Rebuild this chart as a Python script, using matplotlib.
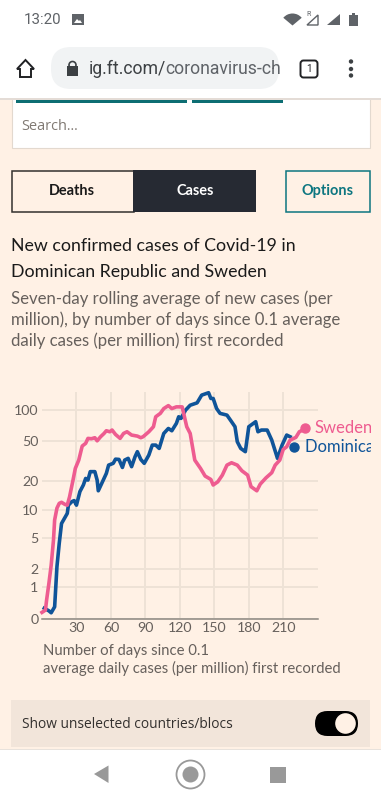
import numpy as np
import matplotlib
matplotlib.use("Agg")
import matplotlib.pyplot as plt
from matplotlib.patches import Rectangle, FancyBboxPatch, Circle, Polygon, Wedge

plt.rcParams['font.family'] = ['Lato', 'DejaVu Sans']

# datos
dias_se = [0,3,4,6,8,10,11,13,15,17,20,22,24,27,29,32,35,38,40,43,46,48,51,54,56,59,61,64,68,71,74,78,83,86,88,93,97,99,103,106,110,113,117,122,124,126,129,131,133,138,142,147,149,153,157,161,165,170,174,179,182,187,190,195,200,203,207,210,213,216,221,224,227]
casos_se = [0.15,0.21,0.51,1.18,2.27,4.69,7.85,10.5,11.8,12.1,11.5,11.3,13.8,20.4,26.7,32.3,44.4,47.2,52.8,52.4,53.6,50,54.8,59,62.7,61.3,63.7,57.7,52.8,59,61.3,56.9,55.6,53.6,54.8,61.3,68.6,85.8,92.5,103,110,103,107,107,85.8,68.6,59,43.7,32.3,26.7,22.4,20.7,18.2,19.6,22.9,28.8,30.4,28.8,25.3,22.9,17.5,15.9,18.6,21.5,24.2,28.8,32.3,41.2,43.7,50.8,54,61.3,63.7]
dias_do = [2,6,8,11,13,15,17,22,23,26,28,30,33,36,38,40,42,46,48,49,52,56,58,62,64,67,70,72,75,78,81,83,86,89,93,96,99,102,106,110,113,117,119,121,125,129,135,139,145,147,149,152,155,161,165,168,170,173,177,180,186,188,191,196,200,205,209,213,216]
casos_do = [0.26,0.19,0.14,0.30,2.15,4.28,7.2,9.25,11.3,12.3,12.6,11.3,15.6,18.2,21.2,20.4,24.8,24.8,20.4,15.9,18.9,23.8,28.8,30,33,32.8,27.3,32.3,33.6,27.8,34.9,39.1,32.8,30,36.2,45.4,45.4,42.1,59,66,62.7,74,85.8,82.7,99.6,111,117,139,146.6,129,129,103,92.5,89,76.8,68.6,49,42.1,39.1,68.6,76.8,61.3,63.7,63.7,50.8,33.6,45.4,56.9,54.8]
punto_se = (229, 66)
punto_do = (219, 43.7)
ticks_y = [0, 1, 2, 5, 10, 20, 50, 100]
ticks_x = [30, 60, 90, 120, 150, 180, 210]

FONDO = '#fff1e5'
ROSA = '#ee5c90'
AZUL = '#0f5499'
GRIS = '#66605c'
TINTA = '#1a1a1a'

fig = plt.figure(figsize=(3.81, 8.0), dpi=100, facecolor=FONDO)

# capa de pagina en pixeles
pg = fig.add_axes([0, 0, 1, 1])
pg.set_xlim(0, 381)
pg.set_ylim(800, 0)
pg.axis('off')

def caja(x, y, w, h, fc, ec='none', lw=0, z=2):
    pg.add_patch(Rectangle((x, y), w, h, fc=fc, ec=ec, lw=lw, zorder=z))

def texto(x, y, s, px, color=TINTA, z=5, **kw):
    kw.setdefault('va', 'center')
    return pg.text(x, y, s, fontsize=px * 0.72, color=color, zorder=z, **kw)

# barra del navegador
caja(0, 0, 381, 98, 'white', z=4)
caja(0, 98, 381, 1.5, '#e4dcd6', z=4)
texto(24, 20, '13:20', 15, '#5f6368', family='Roboto')
caja(72, 14, 12, 11, '#5f6368', z=5)
pg.add_patch(Polygon([[74, 23], [77, 19], [79, 21], [80, 20], [82, 23]], fc='white', zorder=6))
pg.add_patch(Wedge((292.5, 25.5), 12, 220, 320, fc='#5f6368', zorder=5))
pg.add_patch(Polygon([[307, 25], [318, 25], [318, 15]], fc='none', ec='#5f6368', lw=1, zorder=5))
texto(308.5, 14, 'R', 7, '#5f6368', ha='center', family='Roboto')
pg.add_patch(Polygon([[327, 25], [340, 25], [340, 14]], fc='#5f6368', zorder=5))
caja(349, 15, 9, 11, '#5f6368', z=5)
caja(352, 13, 3, 2, '#5f6368', z=5)
pg.add_patch(FancyBboxPatch((51, 47), 228, 42, boxstyle='round,pad=0,rounding_size=20', fc='#f1f3f4', ec='none', zorder=5))
texto(89, 69, 'ig.ft.com/', 17.6, '#3c4043', z=6, family='Roboto')
t = texto(165, 69, 'coronavirus-ch', 17.6, '#5f6368', z=6, family='Roboto')
t.set_clip_path(Rectangle((0, 0), 270, 800, transform=pg.transData))
caja(67, 66, 11, 10, '#3c4043', z=6)
pg.add_patch(Circle((72.5, 65), 3.5, fc='none', ec='#3c4043', lw=1.2, zorder=6))
pg.add_patch(Polygon([[17, 69], [25.5, 60], [34, 69], [31, 69], [31, 77], [20, 77], [20, 69]], fc='white', ec='#202124', lw=1.4, zorder=6))
pg.add_patch(FancyBboxPatch((300.5, 60.5), 17, 17, boxstyle='round,pad=0,rounding_size=3', fc='white', ec='#202124', lw=1.4, zorder=6))
texto(309, 69, '1', 10, '#202124', z=7, ha='center', family='Roboto')
for yy in (61.5, 69, 75.5):
    pg.add_patch(Circle((351, yy), 2.2, fc='#3c4043', zorder=6))

# buscador y botones
caja(16, 96, 171, 7, '#0d6e73', z=3)
caja(192, 96, 91, 7, '#0d6e73', z=3)
caja(11.5, 98, 358, 49.5, 'white', '#e3d9cf', 0.8, z=1)
texto(21, 126, 'Search...', 14.5, '#807973', family='Open Sans')
caja(11.5, 170.5, 122, 41, FONDO, '#33302e', 1.1)
caja(133, 170, 123, 42, '#262a33')
texto(72, 191, 'Deaths', 14.5, TINTA, weight='bold', ha='center')
texto(195, 191, 'Cases', 14.5, 'white', weight='bold', ha='center')
caja(286, 170.5, 84, 41, FONDO, '#0d7680', 1.1)
texto(328, 191, 'Options', 14.5, '#0d7680', weight='bold', ha='center')

# titulos
texto(11, 246, 'New confirmed cases of Covid-19 in', 17.8)
texto(11, 272, 'Dominican Republic and Sweden', 17.8)
texto(11, 299, 'Seven-day rolling average of new cases (per', 16.7, GRIS)
texto(11, 320, 'million), by number of days since 0.1 average', 16.7, GRIS)
texto(11, 341, 'daily cases (per million) first recorded', 16.7, GRIS)

# grafica
L, R, T, B = 42, 317.7, 392, 618.7
ax = fig.add_axes([L / 381, 1 - B / 800, (R - L) / 381, (B - T) / 800])
ax.patch.set_alpha(0)
ax.set_yscale('function', functions=(lambda v: np.log10(np.maximum(v, -0.99) + 1),
                                     lambda u: 10.0 ** u - 1))
ax.set_xlim(0, 240)
ax.set_ylim(0, 149)
ax.set_xticks(ticks_x)
ax.set_yticks(ticks_y)
ax.set_yticklabels([str(v) for v in ticks_y])
ax.minorticks_off()
ax.grid(True, color='#eee2d6', lw=1.4)
ax.set_axisbelow(True)
for lado in ('top', 'right', 'left'):
    ax.spines[lado].set_visible(False)
ax.spines['bottom'].set_color('#8c8780')
ax.spines['bottom'].set_linewidth(1.1)
ax.tick_params(length=0, labelsize=10.2, labelcolor=GRIS, pad=2.5)
ax.plot(dias_do, casos_do, color=AZUL, lw=2.6, solid_joinstyle='round', clip_on=False, zorder=3)
ax.plot(dias_se, casos_se, color=ROSA, lw=2.6, solid_joinstyle='round', clip_on=False, zorder=4)
ax.plot(*punto_se, 'o', color=ROSA, ms=6.5, clip_on=False, zorder=5)
ax.plot(*punto_do, 'o', color=AZUL, ms=6.5, clip_on=False, zorder=5)

# etiquetas cortadas por el borde
recorte = Rectangle((0, 0), 371, 800, transform=pg.transData)
pg.set_zorder(0)
ax.set_zorder(1)
e1 = ax.annotate('Sweden', punto_se, xytext=(7, 0), textcoords='offset points', fontsize=12, color=ROSA, va='center', annotation_clip=False)
e2 = ax.annotate('Dominican Republic', punto_do, xytext=(8, 0), textcoords='offset points', fontsize=12, color=AZUL, va='center', annotation_clip=False)
e1.set_clip_path(recorte)
e2.set_clip_path(recorte)

texto(43, 651, 'Number of days since 0.1', 14.85, GRIS)
texto(43, 668, 'average daily cases (per million) first recorded', 14.85, GRIS)

# interruptor
caja(11, 700, 359, 47, '#f2e5da')
texto(22, 724, 'Show unselected countries/blocs', 13.7, '#33302e', family='Open Sans')
pg.add_patch(FancyBboxPatch((315, 711), 43, 25, boxstyle='round,pad=0,rounding_size=12.5', fc='black', ec='none', zorder=4))
pg.add_patch(Circle((345.5, 723.5), 11, fc=FONDO, ec='black', lw=1, zorder=5))

# barra de navegacion
caja(0, 750, 381, 50, 'white', z=4)
caja(0, 749, 381, 1, '#e8e2dc', z=4)
pg.add_patch(Polygon([[94, 774], [108.5, 765.5], [108.5, 783]], fc='#999999', zorder=5))
pg.add_patch(Circle((190.5, 774.5), 14, fc='none', ec='#999999', lw=1.3, zorder=5))
pg.add_patch(Circle((190.5, 774.5), 8, fc='#999999', zorder=5))
caja(270, 767, 16, 16, '#999999', z=5)

fig.savefig('out.png', dpi=100, facecolor=FONDO)
